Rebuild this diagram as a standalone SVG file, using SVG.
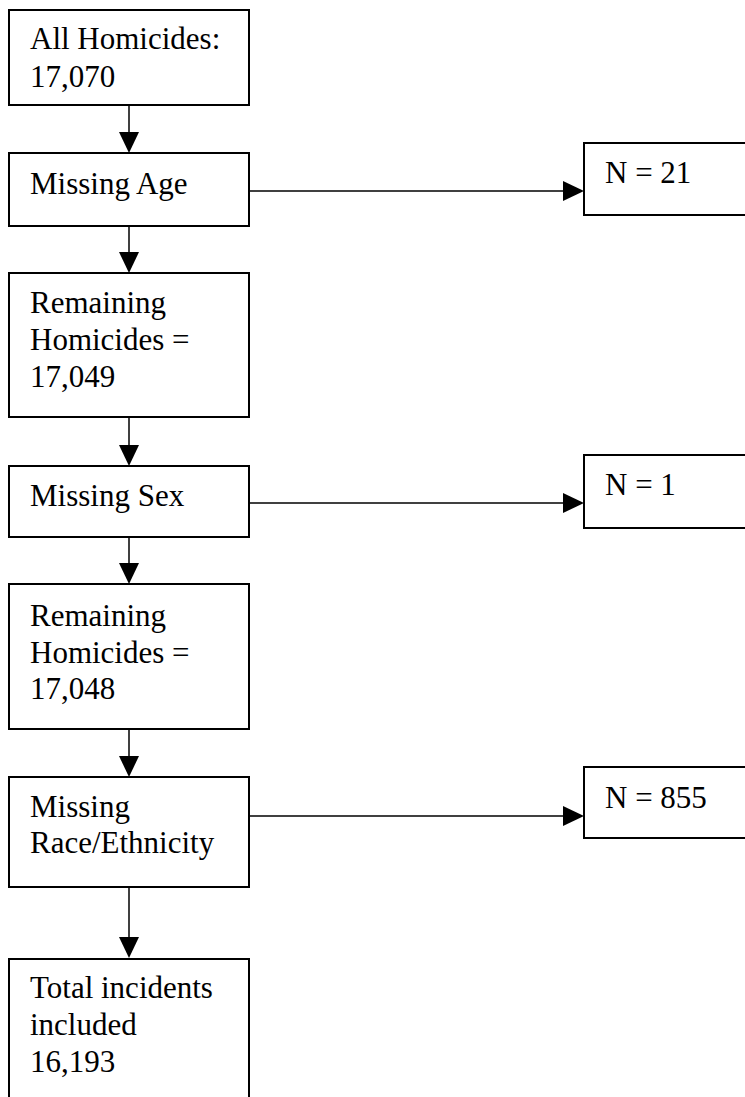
<svg xmlns="http://www.w3.org/2000/svg" width="745" height="1097" viewBox="0 0 745 1097">
<defs>
<style>
.box{fill:#fff;stroke:#000;stroke-width:2}
.t{font-family:"Liberation Serif","Times New Roman",serif;font-size:31px;fill:#000}
.c{stroke:#000;stroke-width:1.5;fill:none}
.h{fill:#000;stroke:none}
</style>
</defs>
<rect width="745" height="1097" fill="#fff"/>
<g id="connectors">
<line class="c" x1="129" y1="105" x2="129" y2="134"/>
<polygon class="h" points="119,132 139,132 129,153"/>
<line class="c" x1="129" y1="226" x2="129" y2="254"/>
<polygon class="h" points="119,252 139,252 129,273"/>
<line class="c" x1="129" y1="417" x2="129" y2="447"/>
<polygon class="h" points="119,445 139,445 129,466"/>
<line class="c" x1="129" y1="537" x2="129" y2="565"/>
<polygon class="h" points="119,563 139,563 129,584"/>
<line class="c" x1="129" y1="729" x2="129" y2="758"/>
<polygon class="h" points="119,756 139,756 129,777"/>
<line class="c" x1="129" y1="887" x2="129" y2="939"/>
<polygon class="h" points="119,937 139,937 129,958"/>
<line class="c" x1="249" y1="191" x2="565" y2="191"/>
<polygon class="h" points="563,181 563,201 584,191"/>
<line class="c" x1="249" y1="503" x2="565" y2="503"/>
<polygon class="h" points="563,493 563,513 584,503"/>
<line class="c" x1="249" y1="816" x2="565" y2="816"/>
<polygon class="h" points="563,806 563,826 584,816"/>
</g>
<g id="n1"><rect class="box" x="9" y="10" width="240" height="95"/><text class="t" x="30" y="49">All Homicides:</text><text class="t" x="30" y="87">17,070</text></g>
<g id="n2"><rect class="box" x="9" y="153" width="240" height="73"/><text class="t" x="30" y="194">Missing Age</text></g>
<g id="n3"><rect class="box" x="9" y="273" width="240" height="144"/><text class="t" x="30" y="313">Remaining</text><text class="t" x="30" y="350">Homicides =</text><text class="t" x="30" y="387">17,049</text></g>
<g id="n4"><rect class="box" x="9" y="466" width="240" height="71"/><text class="t" x="30" y="506">Missing Sex</text></g>
<g id="n5"><rect class="box" x="9" y="584" width="240" height="145"/><text class="t" x="30" y="626">Remaining</text><text class="t" x="30" y="663">Homicides =</text><text class="t" x="30" y="699">17,048</text></g>
<g id="n6"><rect class="box" x="9" y="777" width="240" height="110"/><text class="t" x="30" y="817">Missing</text><text class="t" x="30" y="853">Race/Ethnicity</text></g>
<g id="n7"><rect class="box" x="9" y="959" width="240" height="150"/><text class="t" x="30" y="998">Total incidents</text><text class="t" x="30" y="1035">included</text><text class="t" x="30" y="1072">16,193</text></g>
<g id="r1"><rect class="box" x="584" y="143" width="170" height="72"/><text class="t" x="605" y="183">N = 21</text></g>
<g id="r2"><rect class="box" x="584" y="455" width="170" height="73"/><text class="t" x="605" y="495">N = 1</text></g>
<g id="r3"><rect class="box" x="584" y="767" width="170" height="71"/><text class="t" x="605" y="808">N = 855</text></g>
</svg>
